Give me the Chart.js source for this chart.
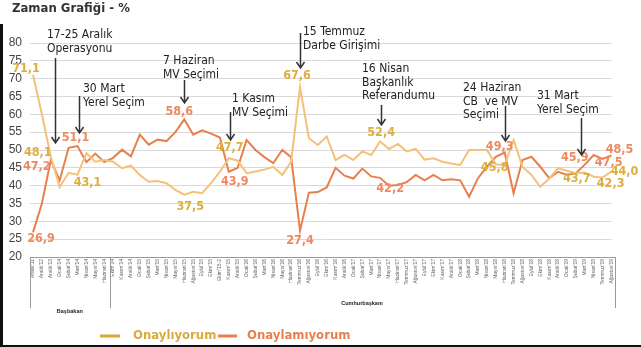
<!DOCTYPE html>
<html lang="tr">
<head>
<meta charset="utf-8">
<script src="https://cdn.jsdelivr.net/npm/chart.js@4/dist/chart.umd.min.js"></script>
<style>
  html, body { margin: 0; padding: 0; background: #fff; }
  #wrap { position: relative; width: 641px; height: 347px; }
</style>
</head>
<body>
<div id="wrap"><canvas id="myChart" width="641" height="347"></canvas></div>
<script>
const months = [
    "Aralık'11", "Aralık'12", "Aralık'13", "Ocak'14", "Şubat'14", "Mart'14", "Nisan'14", "Mayıs'14", "Haziran'14",
    "Ekim'14", "Kasım'14", "Aralık'14", "Ocak'15", "Şubat'15", "Mart'15", "Nisan'15", "Mayıs'15", "Haziran'15",
    "Ağustos'15", "Eylül'15", "Ekim'15", "Ekim'15-2", "Kasım'15", "Aralık'15", "Ocak'16", "Şubat'16", "Mart'16",
    "Nisan'16", "Mayıs'16", "Haziran'16", "Temmuz'16", "Ağustos'16", "Eylül'16", "Ekim'16", "Kasım'16", "Aralık'16",
    "Ocak'17", "Şubat'17", "Mart'17", "Nisan'17", "Mayıs'17", "Haziran'17", "Temmuz'17", "Ağustos'17", "Eylül'17",
    "Ekim'17", "Kasım'17", "Aralık'17", "Ocak'18", "Şubat'18", "Mart'18", "Nisan'18", "Mayıs'18", "Haziran'18",
    "Temmuz'18", "Ağustos'18", "Eylül'18", "Ekim'18", "Kasım'18", "Aralık'18", "Ocak'19", "Şubat'19", "Mart'19",
    "Nisan'19", "Temmuz'19", "Ağustos'19"
];

// Onaylıyorum
const approve = [
    71.1, 60.0, 48.1, 39.6, 43.6, 43.1, 49.1, 46.7, 47.2,
    46.7, 44.9, 45.6, 43.0, 41.1, 41.3, 40.7, 38.8, 37.5,
    38.3, 37.9, 40.7, 43.9, 47.7, 47.0, 43.5, 44.0, 44.5,
    45.3, 43.0, 46.7, 67.6, 53.3, 51.4, 53.8, 47.2, 48.6,
    47.2, 49.6, 48.6, 52.4, 50.3, 51.7, 49.6, 50.3, 47.3,
    47.7, 46.7, 46.2, 45.8, 50.0, 50.0, 50.0, 46.0, 45.8,
    52.8, 45.3, 43.0, 39.7, 42.0, 44.9, 44.2, 43.5, 43.7,
    42.5, 42.3, 44.0
];

// Onaylamıyorum
const disapprove = [
    26.9, 35.0, 47.2, 41.5, 50.6, 51.1, 46.6, 49.0, 46.6,
    47.8, 50.1, 48.2, 54.3, 51.5, 52.9, 52.5, 55.0, 58.6,
    54.3, 55.5, 54.6, 53.5, 43.9, 45.0, 52.8, 50.0, 48.0,
    46.3, 50.0, 48.0, 27.4, 38.0, 38.2, 39.5, 45.0, 42.8,
    42.0, 44.8, 42.6, 42.2, 40.0, 40.2, 41.0, 43.0, 41.5,
    43.0, 41.5, 41.8, 41.5, 36.9, 42.1, 45.3, 48.1, 49.3,
    37.9, 47.2, 48.1, 45.3, 42.1, 43.9, 43.0, 43.5, 45.9,
    48.6, 47.5, 48.5
];

const seriesNames = ['Onaylıyorum', 'Onaylamıyorum'];
const yTicks = [20, 25, 30, 35, 40, 45, 50, 55, 60, 65, 70, 75, 80];

// which months carry a value label
const approveLabelAt = [0, 2, 5, 17, 22, 30, 39, 53, 62, 64, 65];
const disapproveLabelAt = [0, 2, 5, 17, 22, 30, 39, 53, 62, 64, 65];

// event notes and the month they point at
const eventText = [
    ['17-25 Aralık', 'Operasyonu'],
    ['30 Mart', 'Yerel Seçim'],
    ['7 Haziran', 'MV Seçimi'],
    ['1 Kasım', 'MV Seçimi'],
    ['15 Temmuz', 'Darbe Girişimi'],
    ['16 Nisan', 'Başkanlık', 'Referandumu'],
    ['24 Haziran', 'CB  ve MV', 'Seçimi'],
    ['31 Mart', 'Yerel Seçim']
];
const eventMonth = [2, 5, 17, 22, 30, 39, 53, 62];

const periodNames = ['Başbakan', 'Cumhurbaşkanı'];
const periodEnds = [8, 65];

// ---- styling / placement ----
const yellow = '#F4C07A';
const yellowText = '#DDAE3E';
const orange = '#E8804E';
const orangeText = '#EE8A5E';
const noteFont = '"Liberation Sans Narrow", "DejaVu Sans Condensed", "Liberation Sans", sans-serif';

// label offsets from the point, px
const approveLabelPos = [[-7, -6], [-13, -4], [10, 8], [6, 12], [1, -10], [-3, -11], [1, -9], [-10, 3], [-8, 6], [8, 6], [13, 0]];
const disapproveLabelPos = [[8, 6], [-14, 7], [-2, -8], [-5, -8], [6, 10], [0, 10], [10, 11], [-5, -6], [-10, -7], [6, 4], [8, -6]];

// text x, first line y, arrow x shift, arrow top, arrow tip
const eventPos = [
    [47, 35, 4, 58, 143],
    [83, 89, 1.5, 96, 133],
    [163, 61, 0, 80, 103],
    [232, 99, 1, 112, 140],
    [303, 32, 0, 33, 68],
    [362, 69, 1, 105, 125],
    [463, 88, 0, 106, 141],
    [537, 96, -4, 118, 155]
];

function fmt(v) {
    return v.toFixed(1).replace('.', ',');
}

const extras = {
    id: 'extras',
    afterDraw(chart) {
        const c = chart.ctx;
        const x = chart.scales.x;
        const y = chart.scales.y;
        const area = chart.chartArea;
        c.save();

        // frame edge
        c.fillStyle = '#111';
        c.fillRect(0, 24, 3, 323);
        c.fillRect(0, 345, 641, 2);

        // title
        c.fillStyle = '#333';
        c.font = 'bold 13px ' + noteFont;
        c.textAlign = 'left';
        c.textBaseline = 'middle';
        c.fillText('Zaman Grafiği - %', 12, 9);

        // month label box
        const boxL = area.left - 3, boxR = area.right + 3.5, boxT = area.bottom, boxB = 308;
        c.strokeStyle = '#9a9a9a';
        c.lineWidth = 1;
        c.beginPath();
        c.moveTo(boxL, boxT + 0.5); c.lineTo(boxR, boxT + 0.5);
        c.moveTo(boxL + 0.5, boxT); c.lineTo(boxL + 0.5, boxB);
        c.moveTo(boxR + 0.5, boxT); c.lineTo(boxR + 0.5, boxB);
        const sep = (x.getPixelForValue(periodEnds[0]) + x.getPixelForValue(periodEnds[0] + 1)) / 2 + 1;
        c.moveTo(Math.round(sep) + 0.5, boxT); c.lineTo(Math.round(sep) + 0.5, boxB);
        c.stroke();

        c.fillStyle = '#222';
        c.font = 'bold 5.5px "Liberation Sans", sans-serif';
        c.textAlign = 'center';
        c.fillText(periodNames[0], (boxL + sep) / 2, 311);
        c.fillText(periodNames[1], 362, 303);

        // value labels
        c.font = 'bold 12.5px ' + noteFont;
        c.textBaseline = 'middle';
        approveLabelAt.forEach((i, k) => {
            c.fillStyle = yellowText;
            c.fillText(fmt(approve[i]), x.getPixelForValue(i) + approveLabelPos[k][0], y.getPixelForValue(approve[i]) + approveLabelPos[k][1]);
        });
        disapproveLabelAt.forEach((i, k) => {
            c.fillStyle = orangeText;
            c.fillText(fmt(disapprove[i]), x.getPixelForValue(i) + disapproveLabelPos[k][0], y.getPixelForValue(disapprove[i]) + disapproveLabelPos[k][1]);
        });

        // event notes with arrows
        c.font = '12px ' + noteFont;
        c.textAlign = 'left';
        eventText.forEach((lines, k) => {
            const p = eventPos[k];
            c.fillStyle = '#222';
            lines.forEach((t, j) => c.fillText(t, p[0], p[1] + j * 13.5));
            const ax = Math.round(x.getPixelForValue(eventMonth[k]) + p[2]) + 0.5;
            c.strokeStyle = '#333';
            c.lineWidth = 1.5;
            c.beginPath();
            c.moveTo(ax, p[3]);
            c.lineTo(ax, p[4]);
            c.moveTo(ax - 4, p[4] - 6);
            c.lineTo(ax, p[4]);
            c.lineTo(ax + 4, p[4] - 6);
            c.stroke();
        });

        // legend
        const legend = [[100, 120, 133, '#D6AA3A', '#D9AB3C'], [218, 237, 247, orange, orange]];
        c.font = 'bold 13px ' + noteFont;
        legend.forEach((l, k) => {
            c.strokeStyle = l[3];
            c.lineWidth = 3;
            c.beginPath();
            c.moveTo(l[0], 336);
            c.lineTo(l[1], 336);
            c.stroke();
            c.fillStyle = l[4];
            c.fillText(seriesNames[k], l[2], 336);
        });

        c.restore();
    }
};

const ctx = document.querySelector('#myChart').getContext('2d');

const config = {
    type: 'line',
    data: {
        labels: months,
        datasets: [{
            label: seriesNames[0],
            data: approve,
            borderColor: yellow,
            borderWidth: 2,
            pointRadius: 0,
            tension: 0
        }, {
            label: seriesNames[1],
            data: disapprove,
            borderColor: orange,
            borderWidth: 2,
            pointRadius: 0,
            tension: 0
        }]
    },
    options: {
        responsive: false,
        animation: false,
        layout: {
            padding: { top: 43, right: 29.5, left: 0, bottom: 0 }
        },
        plugins: {
            legend: { display: false },
            tooltip: { enabled: false }
        },
        scales: {
            x: {
                offset: false,
                grid: { display: false, drawTicks: false },
                border: { display: false },
                ticks: {
                    autoSkip: false,
                    minRotation: 90,
                    maxRotation: 90,
                    padding: 2,
                    color: '#666',
                    font: { size: 5, family: '"Liberation Sans", sans-serif' }
                },
                afterFit: (scale) => { scale.height = 90; }
            },
            y: {
                min: 20,
                max: 80,
                afterBuildTicks: (scale) => { scale.ticks = yTicks.map(v => ({ value: v })); },
                grid: { color: '#d9d9d9', tickLength: 3 },
                border: { display: false },
                ticks: {
                    padding: 8,
                    color: '#444',
                    font: { size: 12, family: '"Liberation Sans", sans-serif' }
                },
                afterFit: (scale) => { scale.width = 33; }
            }
        }
    },
    plugins: [extras]
};

window.chart = new Chart(ctx, config);
</script>
</body>
</html>
